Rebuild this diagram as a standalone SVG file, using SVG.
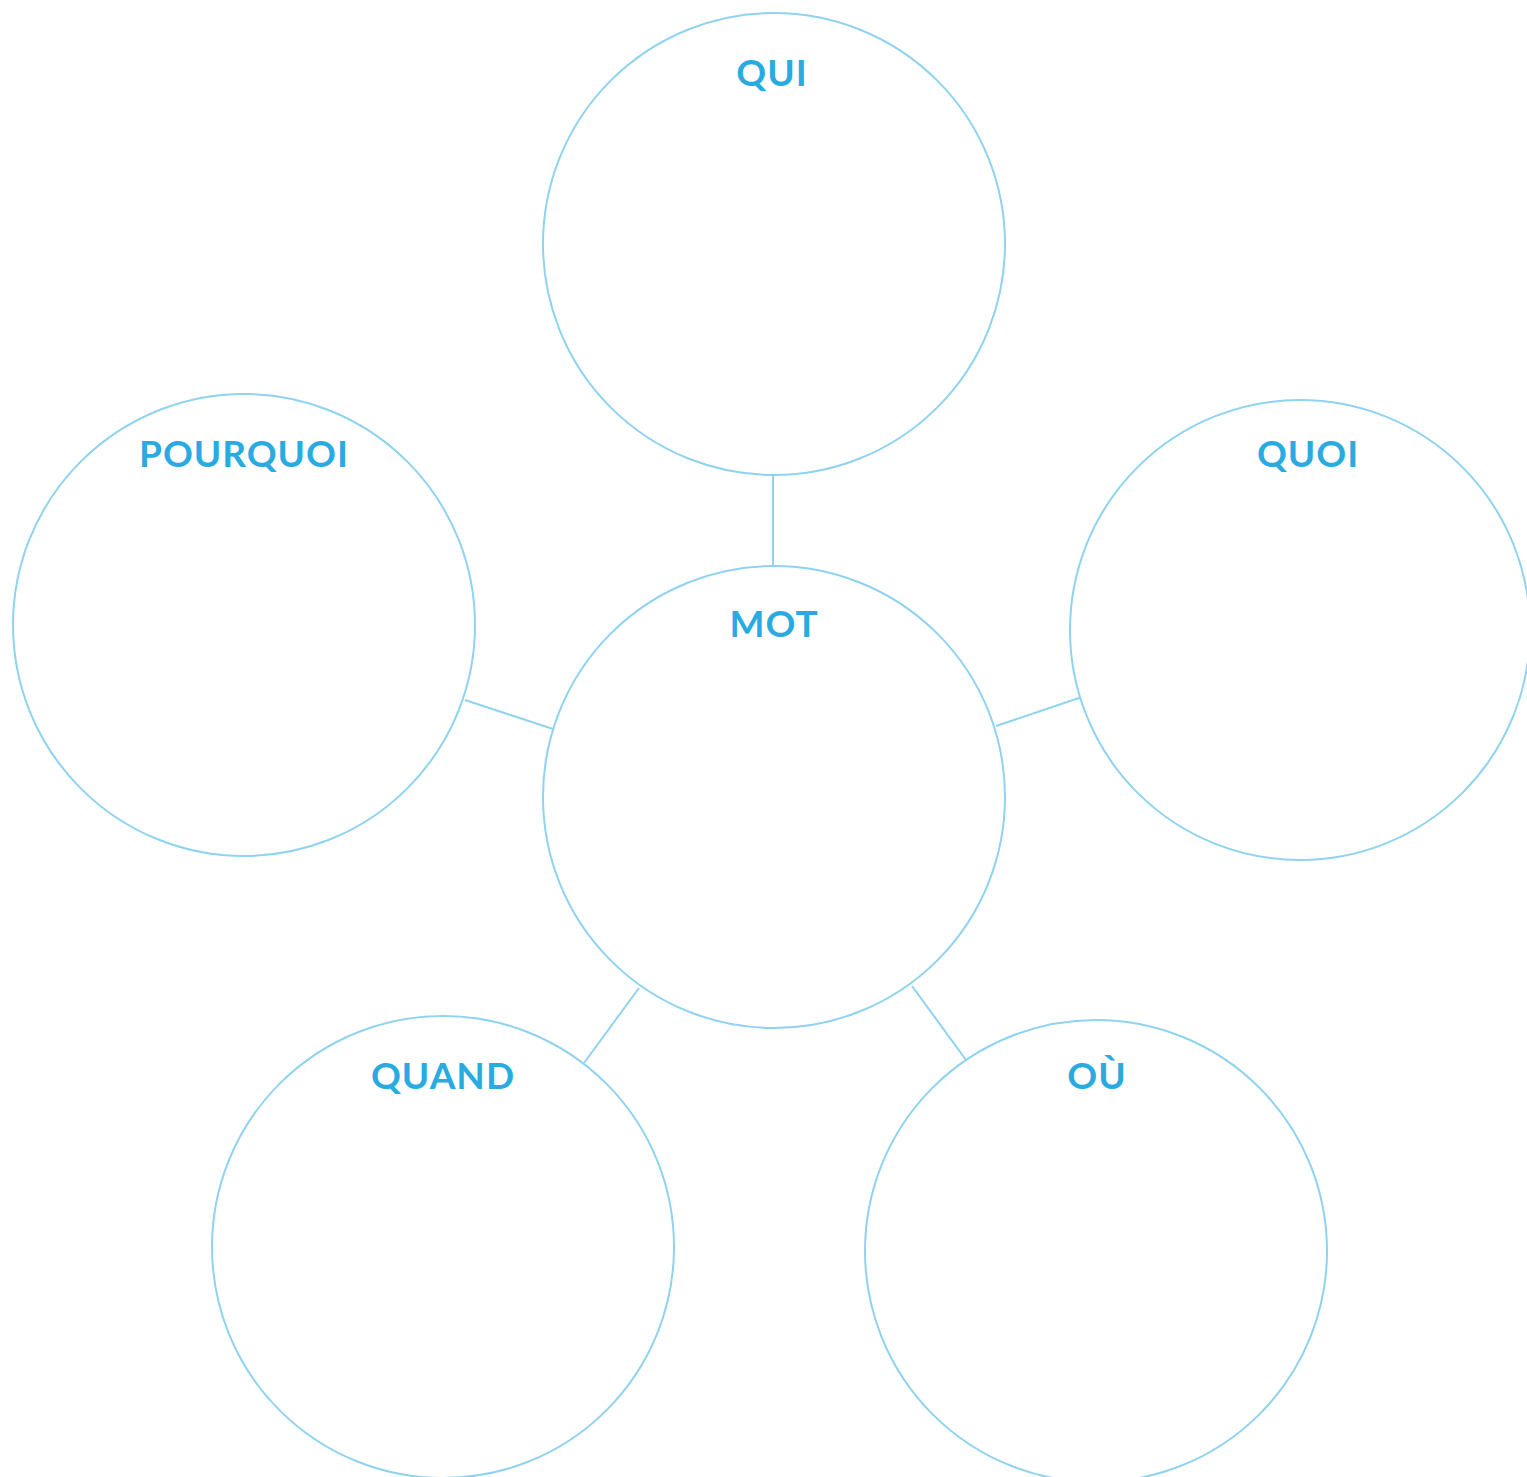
<svg xmlns="http://www.w3.org/2000/svg" width="1527" height="1477" viewBox="0 0 1527 1477">
<style>
.c{fill:#fff;stroke:#8fd3f0;stroke-width:2}
.l{stroke:#8fd3f0;stroke-width:2;fill:none}
.t{font-family:Lato,"Open Sans","Liberation Sans",sans-serif;font-weight:700;font-size:37px;fill:#29abe2;text-anchor:middle;letter-spacing:1px}
</style>
<rect width="1527" height="1477" fill="#fff"/>
<g id="connectors">
<line class="l" x1="773" y1="475" x2="773" y2="566"/>
<line class="l" x1="465" y1="700" x2="553" y2="729"/>
<line class="l" x1="996" y1="726" x2="1082" y2="697"/>
<line class="l" x1="639" y1="988" x2="584" y2="1063"/>
<line class="l" x1="912" y1="986" x2="966" y2="1060"/>
</g>
<g id="qui"><circle class="c" cx="774" cy="244" r="231"/><text class="t" x="772" y="86">QUI</text></g>
<g id="pourquoi"><circle class="c" cx="244" cy="625" r="231"/><text class="t" x="244" y="467">POURQUOI</text></g>
<g id="mot"><circle class="c" cx="774" cy="797" r="231"/><text class="t" x="774" y="637">MOT</text></g>
<g id="quoi"><circle class="c" cx="1300" cy="630" r="230"/><text class="t" x="1308" y="467">QUOI</text></g>
<g id="quand"><circle class="c" cx="443" cy="1247" r="231"/><text class="t" x="443" y="1089">QUAND</text></g>
<g id="ou"><circle class="c" cx="1096" cy="1251" r="231"/><text class="t" x="1097" y="1089">OÙ</text></g>
</svg>
